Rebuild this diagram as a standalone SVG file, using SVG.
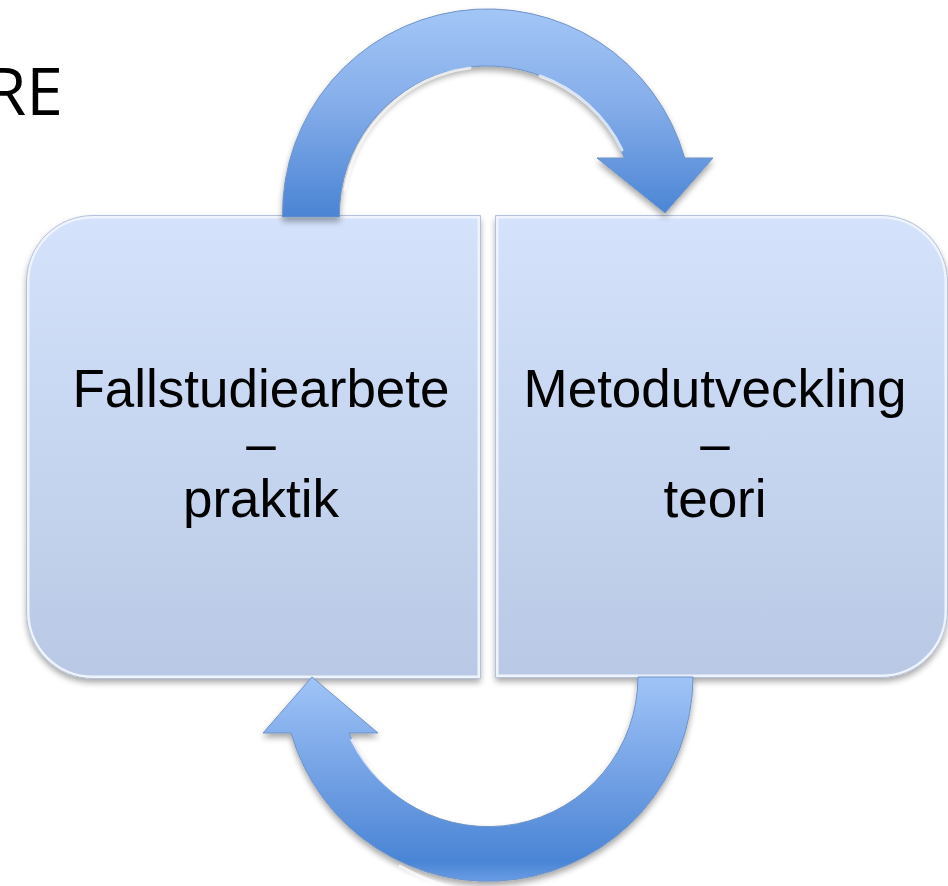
<svg xmlns="http://www.w3.org/2000/svg" width="948" height="886" viewBox="0 0 948 886">
  <defs>
    <linearGradient id="boxFill" x1="0" y1="0" x2="0" y2="1">
      <stop offset="0" stop-color="#d4e2fb"/>
      <stop offset="1" stop-color="#b9c9e5"/>
    </linearGradient>
    <linearGradient id="topArrowFill" gradientUnits="userSpaceOnUse" x1="0" y1="8" x2="0" y2="217">
      <stop offset="0" stop-color="#a3c6f7"/>
      <stop offset="0.45" stop-color="#86aeea"/>
      <stop offset="1" stop-color="#4a84d4"/>
    </linearGradient>
    <linearGradient id="botArrowFill" gradientUnits="userSpaceOnUse" x1="0" y1="677" x2="0" y2="882">
      <stop offset="0" stop-color="#a0c4f7"/>
      <stop offset="0.55" stop-color="#6c9ce2"/>
      <stop offset="0.9" stop-color="#4a85d5"/>
      <stop offset="1" stop-color="#6a9de6"/>
    </linearGradient>
    <filter id="shadow" x="-10%" y="-10%" width="120%" height="125%">
      <feGaussianBlur in="SourceAlpha" stdDeviation="3"/>
      <feOffset dx="0" dy="4" result="b"/>
      <feComponentTransfer><feFuncA type="linear" slope="0.35"/></feComponentTransfer>
      <feMerge><feMergeNode/><feMergeNode in="SourceGraphic"/></feMerge>
    </filter>
  </defs>
  <style>
    .box { fill: url(#boxFill); stroke: #eef3fc; stroke-width: 3; filter: url(#shadow); }
    .boxEdge { fill: none; stroke: #b4c2dc; stroke-width: 1; }
    .lbl { font-family: "Liberation Sans", Arial, sans-serif; font-size: 53px; fill: #000; text-anchor: middle; }
    .arrow { stroke: #6f93c6; stroke-width: 1; filter: url(#shadow); }
    .gloss { fill: none; stroke: #ffffff; stroke-opacity: 0.7; stroke-width: 3; stroke-linecap: round; }
  </style>

  <text x="63" y="115" font-family="'Open Sans', 'Liberation Sans', sans-serif" font-size="66" fill="#000" text-anchor="end">RE</text>

  <g id="node-fallstudiearbete">
    <path class="box" d="M 93 217 L 479 217 L 479 677 L 93 677 A 65 65 0 0 1 28 612 L 28 282 A 65 65 0 0 1 93 217 Z"/>
    <path class="boxEdge" d="M 93 215.5 L 480.5 215.5 L 480.5 678.5 L 93 678.5 A 66.5 66.5 0 0 1 26.5 612 L 26.5 282 A 66.5 66.5 0 0 1 93 215.5 Z"/>
    <text class="lbl" x="261" y="407">Fallstudiearbete</text>
    <text class="lbl" x="261" y="462">–</text>
    <text class="lbl" x="261" y="517">praktik</text>
  </g>

  <g id="node-metodutveckling">
    <path class="box" d="M 497 217 L 881 217 A 65 65 0 0 1 946 282 L 946 611 A 65 65 0 0 1 881 676 L 497 676 Z"/>
    <path class="boxEdge" d="M 495.5 215.5 L 881 215.5 A 66.5 66.5 0 0 1 947.5 282 L 947.5 611 A 66.5 66.5 0 0 1 881 677.5 L 495.5 677.5 Z"/>
    <text class="lbl" x="715" y="407">Metodutveckling</text>
    <text class="lbl" x="715" y="462">–</text>
    <text class="lbl" x="715" y="517">teori</text>
  </g>

  <g id="connectors">
    <g id="arrow-top">
      <path class="arrow" fill="url(#topArrowFill)" d="M 282.5 217 A 205 205 0 0 1 684.7 158 L 713 158 L 665 213 L 597 158 L 624.5 158 A 148 148 0 0 0 339.5 217 Z"/>
      <path class="gloss" d="M 345 190 A 146 146 0 0 1 470 68"/>
      <path class="gloss" d="M 540 76 A 146 146 0 0 1 622 150"/>
    </g>
    <g id="arrow-bottom">
      <path class="arrow" fill="url(#botArrowFill)" d="M 693 677 A 205 205 0 0 1 291 733 L 263 733 L 312 677 L 378 733 L 349 733 A 150 150 0 0 0 638 677 Z"/>
      <path class="gloss" d="M 352 740 A 148 148 0 0 0 470 822"/>
      <path class="gloss" d="M 400 866 A 203 203 0 0 0 600 868" stroke-opacity="0.35"/>
    </g>
  </g>
</svg>
